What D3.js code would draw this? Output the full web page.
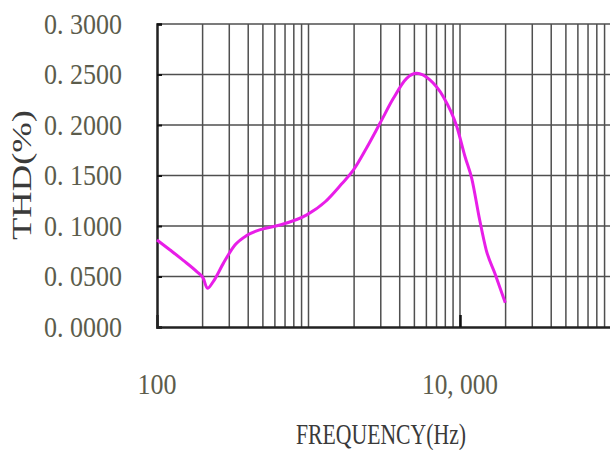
<!DOCTYPE html>
<html>
<head>
<meta charset="utf-8">
<script src="https://cdn.jsdelivr.net/npm/d3@7"></script>
<style>
  body { margin: 0; background: #fff; }
  svg { display: block; }
  text { font-family: "Liberation Serif", "DejaVu Serif", serif; }
</style>
</head>
<body>
<svg width="610" height="450"></svg>
<script>
// THD vs frequency
var freqs = [100, 122, 149, 183, 202, 215, 235, 274, 327, 390, 460, 530, 648, 974, 1289,
  1640, 1981, 2411, 2963, 3633, 4446, 5193, 6329, 7758, 9532, 10800, 11950, 13490,
  14900, 16980, 19900];
var thd = [0.0861, 0.0762, 0.0660, 0.0548, 0.0482, 0.0383, 0.0449, 0.0630, 0.0812, 0.0905,
  0.0955, 0.0980, 0.1010, 0.1110, 0.1240, 0.1410, 0.1555, 0.1770, 0.2017, 0.2264,
  0.2462, 0.2512, 0.2446, 0.2280, 0.1983, 0.1686, 0.1472, 0.1059, 0.0762, 0.0532,
  0.0240];
var yTicks = [0, 0.05, 0.1, 0.15, 0.2, 0.25, 0.3];
var xLabelTicks = [100, 10000];
var xMajorTicks = [10000];

var svg = d3.select("svg");

var x = d3.scaleLog().domain([100, 100000]).range([157, 611.5]);
var y = d3.scaleLinear().domain([0, 0.3]).range([327, 24]);

var gridColor = "#4f4f4f";

// vertical grid (1..9 in each decade)
svg.append("g")
  .selectAll("line")
  .data(x.ticks().filter(function (d) { return d > 100; }))
  .enter().append("line")
  .attr("x1", function (d) { return x(d); })
  .attr("x2", function (d) { return x(d); })
  .attr("y1", y(0.3))
  .attr("y2", y(0))
  .attr("stroke", gridColor)
  .attr("stroke-width", 1.5);

// horizontal grid
svg.append("g")
  .selectAll("line")
  .data(yTicks.filter(function (d) { return d > 0; }))
  .enter().append("line")
  .attr("x1", x(100))
  .attr("x2", 610)
  .attr("y1", function (d) { return y(d); })
  .attr("y2", function (d) { return y(d); })
  .attr("stroke", gridColor)
  .attr("stroke-width", 1.5);

// left axis, ticks pointing inward
var yAxis = d3.axisLeft(y)
  .tickValues(yTicks)
  .tickSize(-5)
  .tickPadding(35)
  .tickFormat(function (d) { return d3.format(".4f")(d).replace(".", ". "); });

var gy = svg.append("g")
  .attr("transform", "translate(" + x(100) + ",0)")
  .call(yAxis);
gy.select(".domain").attr("stroke", "#222").attr("stroke-width", 2.5);
gy.selectAll(".tick line").attr("stroke", "#111").attr("stroke-width", 2);
gy.selectAll(".tick text")
  .attr("font-size", 29)
  .attr("fill", "#5c5c4c")
  .attr("textLength", 78)
  .attr("lengthAdjust", "spacingAndGlyphs");

// bottom axis
var xAxis = d3.axisBottom(x)
  .tickValues(xMajorTicks)
  .tickSize(-12)
  .tickFormat("");

var gx = svg.append("g")
  .attr("transform", "translate(0," + y(0) + ")")
  .call(xAxis);
gx.select(".domain").attr("stroke", "#222").attr("stroke-width", 2.5);
gx.selectAll(".tick line").attr("stroke", "#111").attr("stroke-width", 2.5);

// x tick labels
svg.append("g")
  .selectAll("text")
  .data(xLabelTicks)
  .enter().append("text")
  .attr("x", function (d) { return x(d); })
  .attr("y", 394)
  .attr("text-anchor", "middle")
  .attr("font-size", 30)
  .attr("fill", "#5c5c4c")
  .attr("textLength", function (d) { return d < 1000 ? 39 : 76; })
  .attr("lengthAdjust", "spacingAndGlyphs")
  .text(function (d) { return d3.format(",")(d).replace(",", ", "); });

// curve
var line = d3.line()
  .x(function (d, i) { return x(freqs[i]); })
  .y(function (d) { return y(d); })
  .curve(d3.curveMonotoneX);

svg.append("path")
  .datum(thd)
  .attr("d", line)
  .attr("fill", "none")
  .attr("stroke", "#e81ee8")
  .attr("stroke-width", 3)
  .attr("stroke-linejoin", "round");

// axis titles
svg.append("text")
  .attr("x", 381)
  .attr("y", 444)
  .attr("text-anchor", "middle")
  .attr("font-size", 30)
  .attr("fill", "#3a3a3a")
  .attr("textLength", 170)
  .attr("lengthAdjust", "spacingAndGlyphs")
  .text("FREQUENCY(Hz)");

svg.append("text")
  .attr("transform", "translate(31,175) rotate(-90)")
  .attr("text-anchor", "middle")
  .attr("font-size", 28)
  .attr("fill", "#3a3a3a")
  .attr("textLength", 130)
  .attr("lengthAdjust", "spacingAndGlyphs")
  .text("THD(%)");
</script>
</body>
</html>
